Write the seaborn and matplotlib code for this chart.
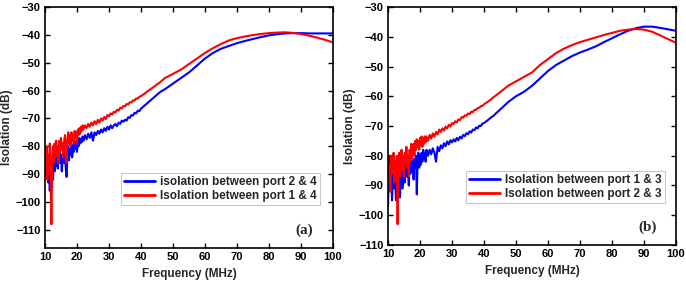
import numpy as np
import pandas as pd
import matplotlib
matplotlib.use("Agg")
import matplotlib.pyplot as plt
import seaborn as sns

# frequency grid (MHz): dense where the traces are noisy
freq = np.concatenate([np.arange(10, 22.001, 0.25), np.arange(22.5, 40.001, 0.5),
                       np.arange(41, 46.001, 1), np.arange(47.5, 100.001, 2.5)])

# Panel (a)
a_blue = [-80, -86, -91, -84, -93, -88, -96, -90, -95, -86, -92, -84, -89, -83, -87, -82, -88, -84, -80, -86,
          -83, -89, -84, -81, -86, -83, -88, -91, -84, -80, -85, -81, -83, -79, -84, -80, -82, -78, -81, -79,
          -82, -78, -80, -77, -79, -77.5, -78.5, -76.5, -78,
          -76, -77.5, -75.5, -77, -75, -78, -75, -76, -74.5, -75.5, -74, -75, -73.5, -74.5, -73, -74, -72.5, -73.5,
          -72.5, -72, -72.8, -71.5, -72, -70.8, -71.2, -70.5, -70.8, -69.6, -69.8, -68.8, -69, -68, -68.2, -67.2,
          -67.4, -66.5,
          -65.5, -64.5, -63.5, -62.5, -61.5, -60.5,
          -59.5, -57.5, -55.5, -53.5, -51, -48.5, -46.5, -45, -44, -43, -42.2, -41.5, -40.8, -40.2, -39.8, -39.5,
          -39.4, -39.4, -39.5, -39.5, -39.5, -39.5]
a_red = [-82, -88, -80, -92, -83, -87, -79, -90, -108, -84, -80, -86, -79, -84, -78, -83, -80, -86, -78, -82,
         -77, -81, -79, -84, -78, -76, -81, -86, -78, -75, -79, -76, -80, -75, -78, -76, -79, -74.5, -77, -75,
         -79, -74, -76, -73.5, -75.5, -73, -74.5, -72.5, -74,
         -72.5, -73.5, -72, -73, -71.5, -72.5, -71, -72, -70.5, -71.5, -70, -70.8, -69.5, -70.2, -68.8, -69.3,
         -68.2, -68.6, -67.6, -67.9, -66.9, -67.2, -66.2, -66.4, -65.5, -65.7, -64.8, -65, -64.2, -64.3, -63.5,
         -63.6, -62.8, -62.9, -62.2, -62,
         -61.2, -60.3, -59.5, -58.7, -57.8, -57,
         -55.5, -54, -52.5, -50.5, -48.5, -46.5, -44.8, -43.3, -42, -41.2, -40.6, -40.1, -39.7, -39.4, -39.2, -39.1,
         -39.3, -39.7, -40.3, -41, -41.8, -42.7]

# Panel (b)
b_blue = [-97, -85, -80, -92, -84, -95, -88, -82, -91, -86, -95, -84, -90, -83, -88, -94, -85, -82, -91, -86,
          -83, -89, -85, -81, -87, -84, -90, -82, -86, -80, -85, -82, -88, -81, -84, -80, -93, -82, -79, -84,
          -80, -83, -79, -82, -78, -81, -79, -82, -78,
          -80, -78, -79.5, -77.5, -79, -82, -77, -78.5, -76.5, -77.5, -75.8, -76.8, -75.2, -76.2, -74.8, -75.5,
          -74.5, -75.2, -74, -74.8, -73.6, -74.2, -73, -73.4, -72.4, -72.8, -71.8, -72.2, -71.2, -71.4, -70.5,
          -70.8, -69.9, -70, -69.2, -69,
          -68.2, -67.3, -66.5, -65.5, -64.5, -63.5,
          -62, -60, -58.5, -56.5, -54, -51.5, -49.5, -48, -46.5, -45.3, -44.3, -43.2, -41.8, -40.5, -39.2, -38,
          -37.1, -36.6, -36.6, -37, -37.5, -38]
b_red = [-80, -88, -83, -92, -80, -86, -84, -79, -89, -82, -86, -80, -103, -84, -79, -87, -80, -78, -85, -80,
         -87, -79, -83, -77, -84, -80, -87, -78, -82, -76, -81, -78, -76, -80, -75, -78, -74.5, -77, -75, -78,
         -74, -76.5, -73.5, -77, -74, -76, -73.5, -75.5, -73.5,
         -75, -73, -74.2, -72.5, -73.6, -72, -72.8, -71.2, -72, -70.8, -71.5, -70.2, -70.8, -69.6, -70.2, -69,
         -69.4, -68.4, -68.8, -67.8, -68, -67, -67.2, -66.4, -66.6, -65.8, -66, -65.2, -65.3, -64.6, -64.6,
         -64, -63.9, -63.3, -63.2, -62.7,
         -62, -61.2, -60.3, -59.5, -58.7, -57.8,
         -56.5, -55, -53.5, -52, -49.5, -47.5, -45.5, -44, -42.8, -41.8, -41, -40.2, -39.4, -38.7, -38, -37.6,
         -37.4, -37.6, -38.3, -39.5, -40.8, -42]

labels_a = ["isolation between port 2 & 4", "Isolation between port 1 & 4"]
labels_b = ["Isolation between port 1 & 3", "Isolation between port 2 & 3"]
panel_tags = ["(a)", "(b)"]
xticks = [10, 20, 30, 40, 50, 60, 70, 80, 90, 100]
yticks = [-110, -100, -90, -80, -70, -60, -50, -40, -30]

sns.set_style("ticks")
plt.rcParams["font.family"] = ["Liberation Sans", "DejaVu Sans"]
plt.rcParams["font.weight"] = "bold"

fig = plt.figure(figsize=(6.86, 2.85), dpi=100)
ax_a = fig.add_axes([0.0656, 0.130, 0.4198, 0.8456])
ax_b = fig.add_axes([0.5656, 0.1404, 0.4198, 0.835])

def draw(ax, blue, red, labels, tag, ylim, leg_anchor):
    n = min(len(freq), len(blue), len(red))
    df = pd.DataFrame({
        "freq": np.concatenate([freq[:n], freq[:n]]),
        "val": np.concatenate([blue[:n], red[:n]]),
        "series": [labels[0]] * n + [labels[1]] * n,
    })
    sns.lineplot(data=df, x="freq", y="val", hue="series", hue_order=labels,
                 palette=["#0000FF", "#FF0000"], linewidth=1.5, ax=ax, sort=False)
    ax.set_xlim(10, 100)
    ax.set_ylim(*ylim)
    ax.set_xticks(xticks)
    ax.set_yticks([t for t in yticks if t >= ylim[0]])
    ax.set_xlabel("Frequency (MHz)", fontsize=8.5, fontweight="bold")
    ax.set_ylabel("Isolation (dB)", fontsize=8.5, fontweight="bold", labelpad=2)
    ax.tick_params(direction="in", length=3.5, width=1, top=True, right=True,
                   labelsize=8, pad=3, colors="black")
    for lab in ax.get_xticklabels() + ax.get_yticklabels():
        lab.set_fontweight("bold")
    for s in ax.spines.values():
        s.set_linewidth(1.2)
        s.set_color("black")
    h, l = ax.get_legend_handles_labels()
    leg = ax.legend(h, l, loc="lower right", bbox_to_anchor=leg_anchor, frameon=True, fancybox=False,
                    fontsize=8.5, handlelength=2.6, borderpad=0.25, labelspacing=0.15,
                    handletextpad=0.5, borderaxespad=0)
    leg.get_frame().set_edgecolor("#bbbbbb")
    leg.get_frame().set_linewidth(0.8)
    for t in leg.get_texts():
        t.set_fontweight("bold")
    for ln in leg.get_lines():
        ln.set_linewidth(2)
    ax.text(0.90, 0.075, tag, transform=ax.transAxes, fontsize=11, fontweight="bold",
            family=["Liberation Serif", "DejaVu Serif"], ha="center", va="center")

print(len(freq), len(a_blue), len(a_red), len(b_blue), len(b_red))
draw(ax_a, a_blue, a_red, labels_a, panel_tags[0], (-116.5, -30), (0.955, 0.178))
draw(ax_b, b_blue, b_red, labels_b, panel_tags[1], (-110, -30), (0.962, 0.176))

fig.savefig("out.png", dpi=100)
